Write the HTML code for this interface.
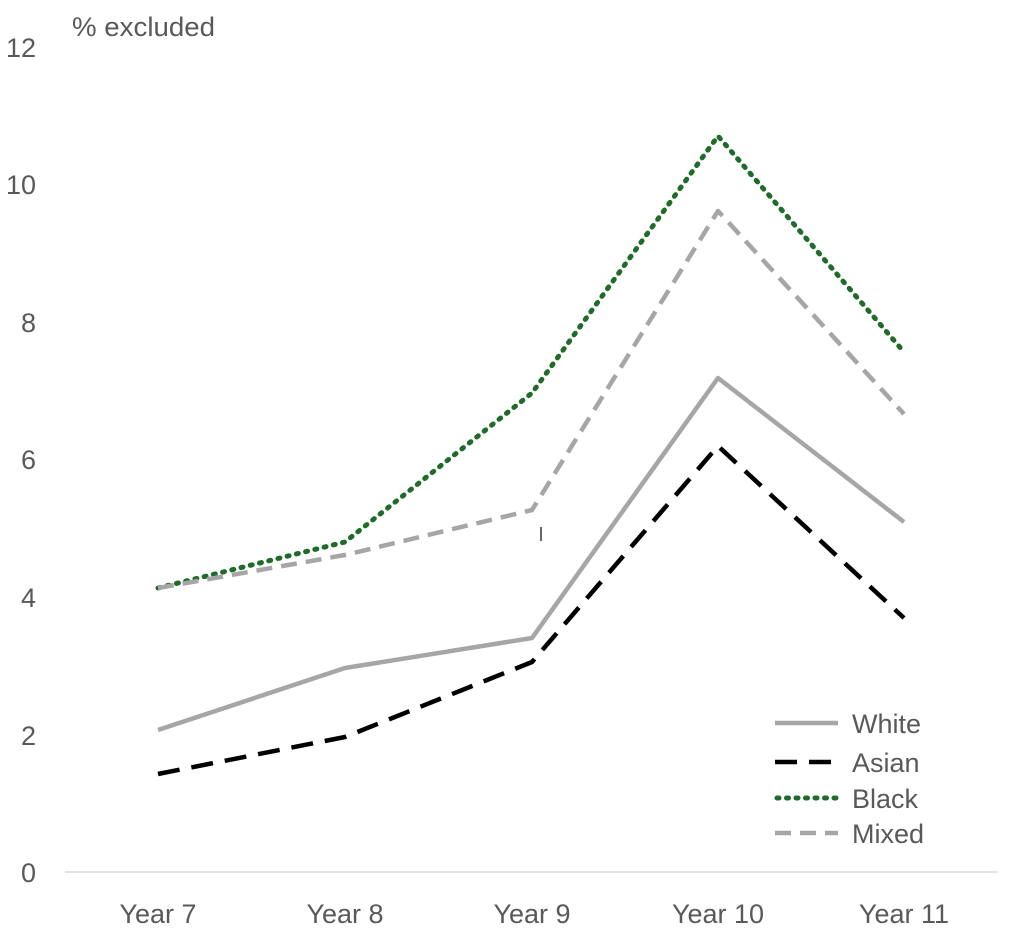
<!DOCTYPE html>
<html><head><meta charset="utf-8"><style>
html,body{margin:0;padding:0;background:#fff;}
svg{display:block;font-family:"Liberation Sans",sans-serif;}
</style></head><body>
<svg width="1024" height="945" viewBox="0 0 1024 945" xmlns="http://www.w3.org/2000/svg">
<g fill="#595959" font-size="27">
<text x="72" y="36" textLength="143" lengthAdjust="spacingAndGlyphs">% excluded</text>
<g text-anchor="end">
<text x="36" y="882">0</text>
<text x="36" y="745">2</text>
<text x="36" y="607">4</text>
<text x="36" y="469">6</text>
<text x="36" y="332">8</text>
<text x="36" y="194">10</text>
<text x="36" y="57">12</text>
</g>
<g text-anchor="middle">
<text x="158" y="923">Year 7</text>
<text x="345" y="923">Year 8</text>
<text x="532" y="923">Year 9</text>
<text x="718" y="923">Year 10</text>
<text x="904" y="923">Year 11</text>
</g>
<text x="852" y="733">White</text>
<text x="852" y="772">Asian</text>
<text x="852" y="808">Black</text>
<text x="852" y="843">Mixed</text>
</g>
<line x1="65" y1="872" x2="997" y2="872" stroke="#d9d9d9" stroke-width="1.5"/>
<line x1="541" y1="527" x2="541" y2="541" stroke="#000" stroke-width="1.2"/>
<g fill="none" stroke-linejoin="round">
<polyline points="158,730 345,668 532,638 718,378 904,522" stroke="#a6a6a6" stroke-width="4.5"/>
<polyline points="158,774 345,737 532,662 718,446 904,618" stroke="#000" stroke-width="4.5" stroke-dasharray="22,12"/>
<polyline points="158,588 345,542 532,393 718,136 904,352" stroke="#1e6b2a" stroke-width="5" stroke-dasharray="2,7.5" stroke-linecap="round"/>
<polyline points="158,588 345,555 532,510 718,211 904,414" stroke="#a6a6a6" stroke-width="4.5" stroke-dasharray="16,9"/>
<line x1="775" y1="723" x2="838" y2="723" stroke="#a6a6a6" stroke-width="4.5"/>
<line x1="775" y1="762" x2="838" y2="762" stroke="#000" stroke-width="4.5" stroke-dasharray="22,12"/>
<line x1="777" y1="798" x2="838" y2="798" stroke="#1e6b2a" stroke-width="5" stroke-dasharray="2,7.5" stroke-linecap="round"/>
<line x1="775" y1="833" x2="838" y2="833" stroke="#a6a6a6" stroke-width="4.5" stroke-dasharray="16,9"/>
</g>
</svg>
</body></html>
